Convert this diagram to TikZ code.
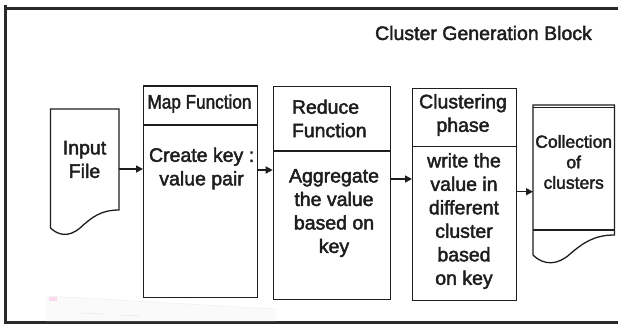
\documentclass[tikz,border=0pt]{standalone}
\usepackage{fontspec}
\setmainfont{Liberation Sans}[FakeBold=2.2]
\usetikzlibrary{arrows.meta}
\definecolor{ink}{HTML}{1E1E1E}
\tikzset{
  boxpart/.style={draw=ink, line width=1.3pt, rectangle, inner sep=0pt, anchor=north west},
  lbl/.style={text=ink, inner sep=0pt, align=center, font=\fontsize{19.5}{23.5}\selectfont},
  smalllbl/.style={text=ink, inner sep=0pt, align=center, font=\fontsize{17.5}{20.5}\selectfont},
  arr/.style={draw=ink, line width=1.5pt, -{Triangle[length=7pt,width=7pt]}},
  doc/.style={draw=ink, line width=1.3pt, line join=miter},
  frame/.style={draw=ink!95, line cap=butt}
}
\begin{document}
\begin{tikzpicture}[x=1pt,y=-1pt]
\useasboundingbox (0,0) rectangle (618,325);
\fill[white] (0,0) rectangle (618,325);

% outer frame (open on the right)
\draw[frame, line width=2.6pt] (4,8.3) -- (618,8.3);
\draw[frame, line width=3pt] (5.3,5) -- (5.3,324);
\draw[frame, line width=3pt] (4,322.6) -- (618,322.6);

% faint pasted thumbnail near the lower left
\fill[gray!4] (46,296) -- (276,309) -- (276,321) -- (46,321) -- cycle;
\draw[gray!15, line width=0.4pt] (46,296) -- (276,309);
\fill[magenta!15] (49,297) rectangle (57,301);
\draw[gray!18, line width=0.5pt] (80,313) -- (105,314) (118,315) -- (140,316);

% title
\node[lbl] (title) at (483.5,33) {Cluster Generation Block};

% input document
\draw[doc] (50.5,228) -- (50.5,109) -- (119,109) -- (119,210)
  .. controls (101,210) and (92,217) .. (80,228)
  .. controls (68,238) and (58,235) .. (50.5,228);
\node[lbl] (inp) at (84.5,159.5) {Input\\File};
\coordinate (inpE) at (119,169);

% map function
\node[boxpart, minimum width=113.7pt, minimum height=38pt] (maphead) at (143,86) {};
\node[boxpart, minimum width=113.7pt, minimum height=173pt] (map) at (143,124) {};
\draw[draw=ink, line width=2.2pt] (maphead.south west) -- (maphead.south east);
\draw[draw=ink, line width=2pt] (maphead.north west) -- (maphead.north east);
\node[lbl] (maptitle) at (199.5,103.5) {\scalebox{0.88}[1]{Map Function}};
\node[lbl] (maptext) at (201.6,168.5) {Create key :\\value pair};

% reduce function
\node[boxpart, minimum width=117.3pt, minimum height=64.3pt] (redhead) at (272.7,86) {};
\node[boxpart, minimum width=117.3pt, minimum height=148.7pt] (red) at (272.7,150.3) {};
\node[lbl, align=left, anchor=west] (redtitle) at (291.7,118.5) {Reduce\\Function};
\node[lbl] (redtext) at (334,213) {Aggregate\\the value\\based on\\key};

% clustering phase
\node[boxpart, minimum width=103.6pt, minimum height=58.3pt] (cluhead) at (412,87.7) {};
\node[boxpart, minimum width=103.6pt, minimum height=154pt] (clu) at (412,146) {};
\node[lbl] (clutitle) at (463,115) {Clustering\\phase};
\node[lbl] (clutext) at (464,221) {write the\\value in\\different\\cluster\\based\\on key};

% collection of clusters document
\draw[doc] (533,255) -- (533,105) -- (614.5,105) -- (614.5,235)
  .. controls (595,235) and (584,242) .. (570,254)
  .. controls (558,265) and (544,266) .. (533,255);
\draw[doc] (533,107.8) -- (614.5,107.8);
\draw[doc] (533,230) -- (614.5,230);
\coordinate (colW) at (533,191.7);
\node[smalllbl] (col) at (573.7,162) {Collection\\of\\clusters};

% connectors
\draw[arr] (inpE) -- (map.west |- inpE);
\draw[arr] (map.east |- 0,170) -- (red.west |- 0,170);
\draw[arr] (red.east |- 0,179) -- (clu.west |- 0,179);
\draw[arr] (clu.east |- colW) -- (colW);
\end{tikzpicture}
\end{document}
